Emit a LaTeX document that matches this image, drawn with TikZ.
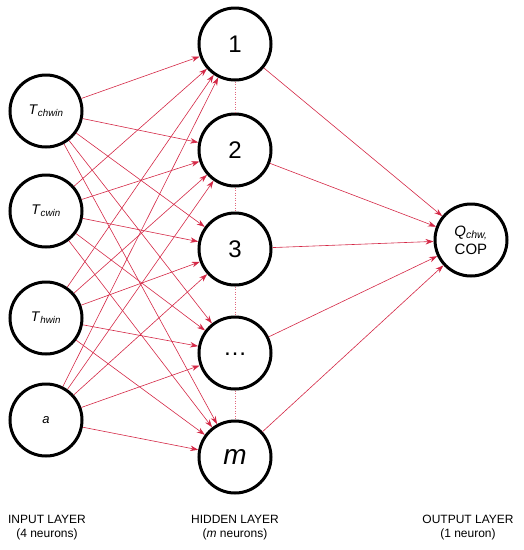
\documentclass[tikz,border=0pt]{standalone}
\usepackage{fontspec}
\setmainfont{Liberation Sans}
\usepackage{xcolor}
\usepackage{tikz}
\usetikzlibrary{arrows.meta}
\definecolor{linkred}{RGB}{212,40,70}

\begin{document}
\begin{tikzpicture}[x=1pt,y=-1pt,
    neuron/.style={circle,draw,line width=3pt,minimum size=72pt,inner sep=0pt,align=center},
    link/.style={linkred,line width=0.6pt,-{Stealth[length=8pt,width=5.5pt]}},
    layertext/.style={align=center,font=\fontsize{12}{14}\selectfont}]
    \useasboundingbox (0,0) rectangle (524,550);
    % input layer
    \node[neuron,font=\fontsize{14}{16}\selectfont] (in1) at (46,111) {\textit{T}\textsubscript{\textit{chwin}}};
    \node[neuron,font=\fontsize{14}{16}\selectfont] (in2) at (46,211) {\textit{T}\textsubscript{\textit{cwin}}};
    \node[neuron,font=\fontsize{14}{16}\selectfont] (in3) at (46,318) {\textit{T}\textsubscript{\textit{hwin}}};
    \node[neuron,font=\fontsize{13}{16}\selectfont] (in4) at (46,420) {\textit{a}};
    % hidden layer
    \node[neuron,font=\fontsize{24}{26}\selectfont] (hid1) at (235,44) {1};
    \node[neuron,font=\fontsize{24}{26}\selectfont] (hid2) at (235,150) {2};
    \node[neuron,font=\fontsize{24}{26}\selectfont] (hid3) at (235,249) {3};
    \node[neuron,font=\fontsize{24}{26}\selectfont] (hid4) at (235,353) {\raisebox{-4pt}{\dots}};
    \node[neuron,font=\fontsize{28}{30}\selectfont] (hid5) at (235,457) {\textit{m}};
    % output layer
    \node[neuron,font=\fontsize{15}{18}\selectfont] (out) at (471,240) {\textit{Q}\textsubscript{\textit{chw,}}\\COP};
    \foreach \i in {1,...,4} {
      \foreach \j in {1,...,5} {
        \draw[link] (in\i) -- (hid\j);
      }
    }
    \foreach \j in {1,...,5} {
      \draw[link] (hid\j) -- (out);
    }
    \foreach \j [count=\k from 2] in {1,...,4} {
      \draw[linkred!70,line width=1pt,dash pattern=on 1pt off 1.5pt] (hid\j.south) -- (hid\k.north);
    }
    % layer captions
    \node[layertext] (capin) at (47,528) {INPUT LAYER\\(4 neurons)};
    \node[layertext] (caphid) at (235,528) {HIDDEN LAYER\\(\textit{m} neurons)};
    \node[layertext] (capout) at (468,528) {OUTPUT LAYER\\(1 neuron)};
  \end{tikzpicture}
\end{document}
